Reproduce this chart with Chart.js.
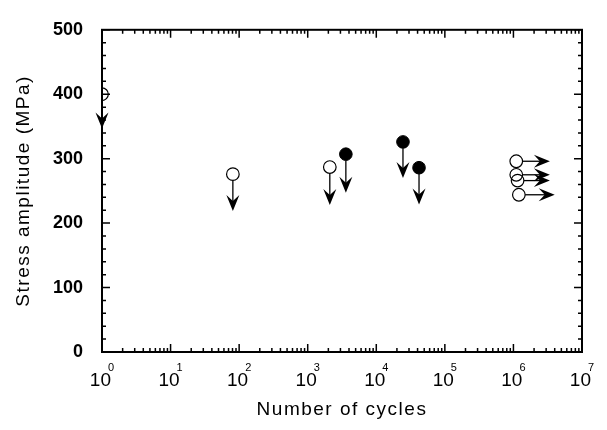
<!DOCTYPE html>
<html>
<head>
<meta charset="utf-8">
<script src="https://cdn.jsdelivr.net/npm/chart.js@4.4.1/dist/chart.umd.min.js"></script>
<style>
  html, body { margin: 0; background: #fff; }
  canvas { display: block; }
</style>
</head>
<body>
<canvas id="chart" width="607" height="430"></canvas>
<script>
// x = number of cycles, y = stress amplitude (MPa)
const openCycles = [1, 81, 2100];
const openStress = [400, 276, 287];
const filledCycles = [3600, 24500, 42000];
const filledStress = [307, 326, 286];

// failure points: arrows pointing down to these stresses
const openArrowTo = [347, 219, 228];
const filledArrowTo = [247, 270, 229];

// run-outs: arrows pointing right
const runoutCycles = [1.1e6, 1.1e6, 1.15e6, 1.2e6];
const runoutStress = [296, 275, 266, 244];
const runoutArrowTo = [3.4e6, 3.4e6, 3.4e6, 4.0e6];

const yTickValues = [0, 100, 200, 300, 400, 500];
const xDecades = [0, 1, 2, 3, 4, 5, 6, 7];

const FONT = "'Liberation Sans', Arial, sans-serif";
const R = 6.3;

function toPoints(xs, ys) {
    return xs.map((v, i) => ({ x: v, y: ys[i] }));
}

// stem + barbed head, starting at circle edge
function drawArrow(ctx, x0, y0, x1, y1) {
    const a = Math.atan2(y1 - y0, x1 - x0);
    const sx = x0 + Math.cos(a) * R;
    const sy = y0 + Math.sin(a) * R;
    ctx.beginPath();
    ctx.moveTo(sx, sy);
    ctx.lineTo(x1 - Math.cos(a) * 8, y1 - Math.sin(a) * 8);
    ctx.stroke();
    ctx.save();
    ctx.translate(x1, y1);
    ctx.rotate(a);
    ctx.beginPath();
    ctx.moveTo(0, 0);
    ctx.lineTo(-16, -6.5);
    ctx.lineTo(-10, 0);
    ctx.lineTo(-16, 6.5);
    ctx.closePath();
    ctx.fill();
    ctx.restore();
}

const framePlugin = {
    id: 'frame',
    beforeDatasetsDraw(chart) {
        const { ctx, scales: { x, y } } = chart;
        ctx.save();
        ctx.strokeStyle = '#000';
        ctx.fillStyle = '#000';
        ctx.lineWidth = 1.3;
        openCycles.forEach((c, i) => {
            const px = x.getPixelForValue(c);
            drawArrow(ctx, px, y.getPixelForValue(openStress[i]), px, y.getPixelForValue(openArrowTo[i]));
        });
        filledCycles.forEach((c, i) => {
            const px = x.getPixelForValue(c);
            drawArrow(ctx, px, y.getPixelForValue(filledStress[i]), px, y.getPixelForValue(filledArrowTo[i]));
        });
        runoutCycles.forEach((c, i) => {
            const py = y.getPixelForValue(runoutStress[i]);
            drawArrow(ctx, x.getPixelForValue(c), py, x.getPixelForValue(runoutArrowTo[i]), py);
        });
        ctx.restore();
    },
    afterDraw(chart) {
        const { ctx, chartArea: a, scales: { x, y } } = chart;
        ctx.save();
        ctx.strokeStyle = '#000';
        ctx.lineWidth = 2;
        ctx.strokeRect(a.left, a.top, a.right - a.left, a.bottom - a.top);

        // inward ticks
        ctx.lineWidth = 1.5;
        ctx.beginPath();
        for (let v = 0; v <= 500; v += 20) {
            const py = y.getPixelForValue(v);
            const len = v % 100 === 0 ? 8 : 4;
            ctx.moveTo(a.left, py); ctx.lineTo(a.left + len, py);
            ctx.moveTo(a.right, py); ctx.lineTo(a.right - len, py);
        }
        for (let k = 0; k < 7; k++) {
            for (let m = 1; m <= 10; m++) {
                const px = x.getPixelForValue(m * Math.pow(10, k));
                const len = (m === 1 || m === 10) ? 8 : 4;
                ctx.moveTo(px, a.bottom); ctx.lineTo(px, a.bottom - len);
                ctx.moveTo(px, a.top); ctx.lineTo(px, a.top + len);
            }
        }
        ctx.stroke();

        // x tick labels 10^k
        ctx.fillStyle = '#000';
        ctx.textBaseline = 'alphabetic';
        ctx.textAlign = 'left';
        xDecades.forEach(k => {
            const px = x.getPixelForValue(Math.pow(10, k));
            ctx.font = '19px ' + FONT;
            const w1 = ctx.measureText('10').width;
            ctx.font = '11px ' + FONT;
            const w2 = ctx.measureText(String(k)).width;
            const left = px - (w1 + w2 - 3) / 2;
            ctx.font = '19px ' + FONT;
            ctx.fillText('10', left, 386);
            ctx.font = '11px ' + FONT;
            ctx.fillText(String(k), left + w1 - 3, 371);
        });

        // axis titles
        ctx.font = '19px ' + FONT;
        ctx.letterSpacing = '1.5px';
        ctx.textAlign = 'center';
        ctx.fillText('Number of cycles', (a.left + a.right) / 2, 415);
        ctx.translate(24, (a.top + a.bottom) / 2);
        ctx.rotate(-Math.PI / 2);
        ctx.textBaseline = 'middle';
        ctx.fillText('Stress amplitude (MPa)', 0, 0);
        ctx.restore();
    }
};

new Chart(document.getElementById('chart'), {
    type: 'scatter',
    data: {
        datasets: [
            {
                data: toPoints(openCycles, openStress),
                pointStyle: 'circle',
                pointRadius: R,
                pointBorderWidth: 1.2,
                pointBorderColor: '#000',
                pointBackgroundColor: 'rgba(255,255,255,0)'
            },
            {
                data: toPoints(filledCycles, filledStress),
                pointStyle: 'circle',
                pointRadius: R,
                pointBorderWidth: 1,
                pointBorderColor: '#000',
                pointBackgroundColor: '#000'
            },
            {
                data: toPoints(runoutCycles, runoutStress),
                pointStyle: 'circle',
                pointRadius: R,
                pointBorderWidth: 1.2,
                pointBorderColor: '#000',
                pointBackgroundColor: 'rgba(255,255,255,0)'
            }
        ]
    },
    options: {
        responsive: false,
        animation: false,
        devicePixelRatio: 1,
        layout: { padding: { top: 21, right: 25, left: 0, bottom: 0 } },
        plugins: { legend: { display: false }, tooltip: { enabled: false } },
        scales: {
            x: {
                type: 'logarithmic',
                min: 1,
                max: 1e7,
                grid: { display: false },
                border: { display: false },
                ticks: { display: false },
                afterFit(s) { s.height = 78; }
            },
            y: {
                min: 0,
                max: 500,
                grid: { display: false, drawTicks: false },
                border: { display: false },
                afterBuildTicks(s) { s.ticks = yTickValues.map(v => ({ value: v })); },
                ticks: {
                    color: '#000',
                    padding: 19,
                    font: { family: FONT, size: 18, weight: 'bold' }
                },
                afterFit(s) { s.width = 102; }
            }
        }
    },
    plugins: [framePlugin]
});
</script>
</body>
</html>
